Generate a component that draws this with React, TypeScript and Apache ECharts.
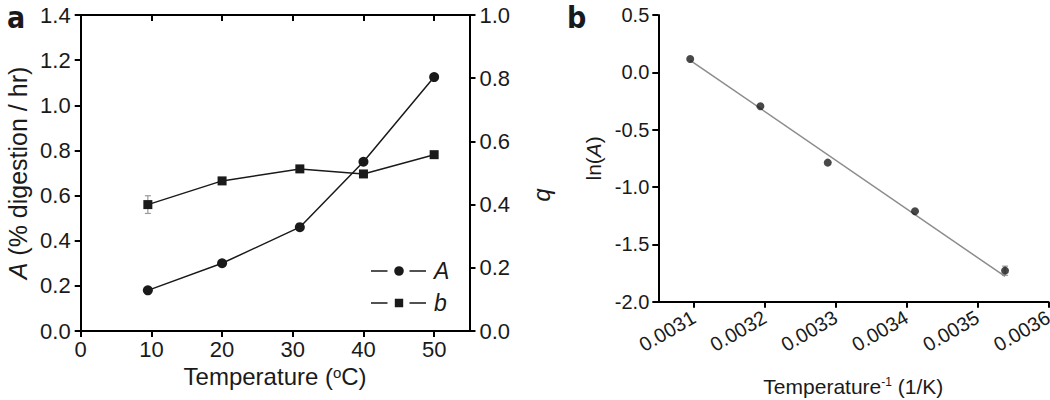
import React, { useEffect, useRef } from "react";
import * as echarts from "echarts";

// ---------- Panel a data ----------
const tempA: number[] = [9.5, 20, 31, 40, 50];
const rateA: number[] = [0.18, 0.3, 0.46, 0.75, 1.125];
const tempB: number[] = [9.5, 20, 31, 40, 50];
const expB: number[] = [0.4, 0.475, 0.513, 0.497, 0.558];
// error bar on b at 9.5 °C: [x, low, high]
const errB: number[][] = [[9.5, 0.372, 0.428]];
const xTicksA: number[] = [0, 10, 20, 30, 40, 50];

// ---------- Panel b data ----------
const invT: number[] = [0.003095, 0.003194, 0.003289, 0.003412, 0.003539];
const lnA: number[] = [0.117, -0.296, -0.787, -1.212, -1.729];
const errLnA: number[][] = [[0.003539, -1.77, -1.69]];
const fitX: number[] = [0.003095, 0.003539];
const fitY: number[] = [0.105, -1.78];
const xTicksB: number[] = [0.0031, 0.0032, 0.0033, 0.0034, 0.0035, 0.0036];

const FONT = "'Liberation Sans', Arial, sans-serif";
const INK = "#1a1a1a";

const mkLine = () => ({ show: true, onZero: false, lineStyle: { color: "#000000", width: 2 } });
const mkTick = (extra: any = {}) => ({ show: true, length: 6, lineStyle: { color: "#000000", width: 2 }, ...extra });

function errorBarSeries(data: number[][], xi: number, yi: number) {
  return {
    type: "custom",
    xAxisIndex: xi,
    yAxisIndex: yi,
    z: 1,
    data,
    encode: { x: 0, y: [1, 2] },
    renderItem: (params: any, api: any) => {
      const x = api.value(0);
      const lo = api.coord([x, api.value(1)]);
      const hi = api.coord([x, api.value(2)]);
      const cap = 3;
      const st = { stroke: "#9a9a9a", lineWidth: 1.2 };
      return {
        type: "group",
        children: [
          { type: "line", shape: { x1: lo[0], y1: lo[1], x2: hi[0], y2: hi[1] }, style: st },
          { type: "line", shape: { x1: lo[0] - cap, y1: lo[1], x2: lo[0] + cap, y2: lo[1] }, style: st },
          { type: "line", shape: { x1: hi[0] - cap, y1: hi[1], x2: hi[0] + cap, y2: hi[1] }, style: st },
        ],
      };
    },
  };
}

const iconA =
  "path://M0,4.3H16.5V5.7H0Z M23.2,5 a4.8,4.8 0 1,0 9.6,0 a4.8,4.8 0 1,0 -9.6,0 Z M38.5,4.3H55V5.7H38.5Z";
const iconB = "path://M0,4.3H16.5V5.7H0Z M23.8,0.8H32.2V9.2H23.8Z M38.5,4.3H55V5.7H38.5Z";

const PANEL_FONT = "bold 30px 'Liberation Sans Narrow', 'DejaVu Sans Condensed', 'Liberation Sans', sans-serif";

export default function App() {
  const ref = useRef<HTMLDivElement>(null);

  useEffect(() => {
    if (!ref.current) return;
    const chart = echarts.init(ref.current, undefined, { renderer: "svg" });
    const option: any = {
      animation: false,
      textStyle: { fontFamily: FONT, color: INK },
      graphic: [
        { type: "text", left: 7, top: 2, style: { text: "a", font: PANEL_FONT, fill: INK } },
        { type: "text", left: 567, top: 2, style: { text: "b", font: PANEL_FONT, fill: INK } },
      ],
      grid: [
        { left: 80.7, right: 580.5, top: 15, bottom: 69, outerBoundsMode: "none" },
        { left: 658.3, right: 1.7, top: 15, bottom: 98.3, outerBoundsMode: "none" },
      ],
      legend: {
        orient: "vertical",
        left: 366,
        top: 254,
        itemWidth: 55,
        itemHeight: 10,
        itemGap: 8,
        selectedMode: false,
        textStyle: { fontFamily: FONT, fontSize: 23, fontStyle: "italic", color: INK, lineHeight: 24, padding: [0, 0, 0, 3] },
        data: [
          { name: "A", icon: iconA },
          { name: "b", icon: iconB },
        ],
      },
      xAxis: [
        {
          type: "value", gridIndex: 0, position: "bottom", min: 0, max: 55,
          axisLine: mkLine(), axisTick: mkTick({ customValues: xTicksA }),
          axisLabel: { customValues: xTicksA, fontSize: 22, color: INK, margin: 7, fontFamily: FONT },
          splitLine: { show: false },
          name: "Temperature ({sup|o}C)", nameLocation: "middle", nameGap: 32,
          nameTextStyle: {
            fontSize: 24, color: INK, fontFamily: FONT,
            rich: { sup: { fontSize: 15, verticalAlign: "top", lineHeight: 20, fontFamily: FONT, color: INK } },
          },
        },
        {
          type: "value", gridIndex: 0, position: "top", min: 0, max: 55,
          axisLine: mkLine(), axisTick: mkTick({ inside: true, customValues: xTicksA }),
          axisLabel: { show: false }, splitLine: { show: false },
        },
        {
          type: "value", gridIndex: 1, position: "bottom", min: 0.00305, max: 0.0036,
          axisLine: mkLine(), axisTick: mkTick({ customValues: xTicksB }),
          axisLabel: {
            customValues: xTicksB, rotate: 30, align: "right", verticalAlign: "middle",
            fontSize: 20, color: INK, margin: 14, fontFamily: FONT,
            formatter: (v: number) => v.toFixed(4),
          },
          splitLine: { show: false },
          name: "Temperature{sup|-1} (1/K)", nameLocation: "middle", nameGap: 74,
          nameTextStyle: {
            fontSize: 21, color: INK, fontFamily: FONT,
            rich: { sup: { fontSize: 12, verticalAlign: "top", lineHeight: 18, fontFamily: FONT, color: INK } },
          },
        },
      ],
      yAxis: [
        {
          type: "value", gridIndex: 0, position: "left", min: 0, max: 1.4, interval: 0.2,
          axisLine: mkLine(), axisTick: mkTick(),
          axisLabel: { fontSize: 22, color: INK, margin: 10, fontFamily: FONT, formatter: (v: number) => v.toFixed(1) },
          splitLine: { show: false },
          name: "{i|A} (% digestion / hr)", nameLocation: "middle", nameGap: 50,
          nameTextStyle: {
            fontSize: 25, color: INK, fontFamily: FONT,
            rich: { i: { fontSize: 25, fontStyle: "italic", fontFamily: FONT, color: INK } },
          },
        },
        {
          type: "value", gridIndex: 0, position: "right", min: 0, max: 1.0, interval: 0.2,
          axisLine: mkLine(), axisTick: mkTick(),
          axisLabel: { fontSize: 22, color: INK, margin: 10, fontFamily: FONT, formatter: (v: number) => v.toFixed(1) },
          splitLine: { show: false },
          name: "b", nameLocation: "middle", nameGap: 64, nameRotate: -90,
          nameTextStyle: { fontSize: 24, fontStyle: "italic", color: INK, fontFamily: FONT, padding: [0, 0, 0, 44] },
        },
        {
          type: "value", gridIndex: 1, position: "left", min: -2.0, max: 0.5, interval: 0.5,
          axisLine: mkLine(), axisTick: mkTick(),
          axisLabel: { fontSize: 20, color: INK, margin: 9, fontFamily: FONT, formatter: (v: number) => v.toFixed(1) },
          splitLine: { show: false },
          name: "ln({i|A})", nameLocation: "middle", nameGap: 54,
          nameTextStyle: {
            fontSize: 21, color: INK, fontFamily: FONT,
            rich: { i: { fontSize: 21, fontStyle: "italic", fontFamily: FONT, color: INK } },
          },
        },
      ],
      series: [
        errorBarSeries(errB, 0, 1),
        {
          name: "A", type: "line", xAxisIndex: 0, yAxisIndex: 0, z: 3,
          data: tempA.map((t, i) => [t, rateA[i]]),
          symbol: "circle", symbolSize: 10,
          itemStyle: { color: INK }, lineStyle: { color: INK, width: 1.5 },
        },
        {
          name: "b", type: "line", xAxisIndex: 0, yAxisIndex: 1, z: 3,
          data: tempB.map((t, i) => [t, expB[i]]),
          symbol: "rect", symbolSize: 9,
          itemStyle: { color: INK }, lineStyle: { color: INK, width: 1.5 },
        },
        {
          name: "fit", type: "line", xAxisIndex: 2, yAxisIndex: 2, z: 2,
          data: fitX.map((x, i) => [x, fitY[i]]),
          showSymbol: false, symbol: "none",
          lineStyle: { color: "#8c8c8c", width: 1.5 },
        },
        errorBarSeries(errLnA, 2, 2),
        {
          name: "lnA", type: "scatter", xAxisIndex: 2, yAxisIndex: 2, z: 3,
          data: invT.map((x, i) => [x, lnA[i]]),
          symbol: "circle", symbolSize: 8,
          itemStyle: { color: INK },
        },
      ],
    };
    chart.setOption(option);
    return () => chart.dispose();
  }, []);

  return <div ref={ref} style={{ width: 1050, height: 400, position: "absolute", left: 0, top: 0 }} />;
}
